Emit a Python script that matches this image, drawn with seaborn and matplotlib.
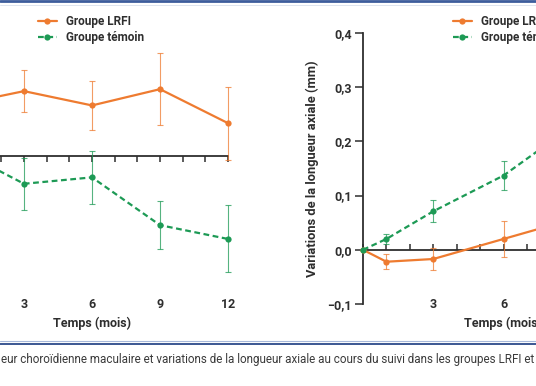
import pandas as pd
import matplotlib
matplotlib.use('Agg')
import matplotlib.pyplot as plt
from matplotlib.lines import Line2D
from matplotlib.ticker import FuncFormatter, MultipleLocator
import seaborn as sns

sns.set_style("white")
plt.rcParams['font.family'] = ['Roboto', 'DejaVu Sans']

# --- data -------------------------------------------------------------
months = [0, 1, 3, 6, 9, 12]
groups = ['Groupe LRFI', 'Groupe témoin']

# left panel: macular choroidal thickness change (µm)
choroid_lrfi = [0.0, 11.3, 13.2, 10.3, 13.6, 6.7]
choroid_lrfi_err = [0.0, 4.0, 4.3, 4.9, 7.3, 7.4]
choroid_ctrl = [0.0, -0.8, -5.6, -4.3, -14.0, -16.8]
choroid_ctrl_err = [0.0, 4.0, 5.3, 5.4, 4.9, 6.8]

# right panel: axial length change (mm)
axial_lrfi = [0.0, -0.022, -0.017, 0.020, 0.057, 0.080]
axial_lrfi_err = [0.0, 0.014, 0.021, 0.034, 0.036, 0.040]
axial_ctrl = [0.0, 0.020, 0.071, 0.137, 0.230, 0.300]
axial_ctrl_err = [0.0, 0.010, 0.020, 0.027, 0.030, 0.035]

month_labels = [3, 6, 9, 12]
axial_yticks = [-0.1, 0.0, 0.1, 0.2, 0.3, 0.4]

caption = ("eur choroïdienne maculaire et variations de la longueur axiale au cours "
           "du suivi dans les groupes LRFI et témoin.")

ORANGE = '#EE7B30'
GREEN = '#1D9A55'
DARK = '#2e2e2e'

W, H = 536, 386
AX_TOP, AX_BOT = 33, 304
fig = plt.figure(figsize=(W / 100, H / 100), dpi=100)
fig.patch.set_facecolor('white')


def px_axes(x0, y0, x1, y1):
    return fig.add_axes([x0 / W, 1 - y1 / H, (x1 - x0) / W, (y1 - y0) / H])


def draw_panel(ax, lrfi, lrfi_err, ctrl, ctrl_err, ylim, tick_dir):
    df = pd.DataFrame({
        'mois': months * 2,
        'valeur': lrfi + ctrl,
        'groupe': [groups[0]] * len(months) + [groups[1]] * len(months),
    })
    sns.lineplot(data=df, x='mois', y='valeur', hue='groupe', style='groupe',
                 palette=[ORANGE, GREEN], markers=['o', 'o'],
                 dashes={groups[0]: '', groups[1]: (2.6, 1.6)},
                 markersize=4.5, markeredgewidth=0, linewidth=1.6,
                 errorbar=None, ax=ax, zorder=4, clip_on=False)
    for vals, errs, col in [(lrfi, lrfi_err, ORANGE), (ctrl, ctrl_err, GREEN)]:
        eb = ax.errorbar(months, vals, yerr=errs, fmt='none', ecolor=col,
                         elinewidth=0.8, capsize=2.2, capthick=0.8, alpha=0.75, zorder=3)
        for art in eb.lines[1] + eb.lines[2]:
            art.set_clip_on(False)

    leg = ax.get_legend()
    handles = leg.legend_handles
    labels = [t.get_text() for t in leg.get_texts()]
    leg.remove()

    ax.set_xlim(0, 12)
    ax.set_ylim(*ylim)
    ax.set_xlabel('')
    ax.set_ylabel('')
    for s in ['top', 'right']:
        ax.spines[s].set_visible(False)
    ax.spines['bottom'].set_position(('data', 0))
    for s in ['bottom', 'left']:
        ax.spines[s].set_color(DARK)
        ax.spines[s].set_linewidth(1.3)
    ax.xaxis.set_major_locator(MultipleLocator(1))
    ax.tick_params(axis='x', which='major', direction=tick_dir, length=4,
                   width=1.1, color=DARK, labelbottom=False, bottom=True)

    # month labels sit at the bottom of the panel, not on the zero line;
    # only those that land inside the (cropped) figure are written
    axh = AX_BOT - AX_TOP
    trans = ax.get_xaxis_transform()
    for m in month_labels:
        xpix = ax.transData.transform((m, 0))[0]
        if 0 <= xpix <= W:
            ax.text(m, -1 / axh, str(m), transform=trans, ha='center', va='center',
                    fontsize=9, fontweight='bold', color=DARK)
    ax.text(6, -19 / axh, 'Temps (mois)', transform=trans, ha='center', va='center',
            fontsize=9, fontweight='bold', color=DARK)
    return handles, labels


# left panel (choroidal thickness), partly outside the figure
ax1 = px_axes(-44, AX_TOP, 228, AX_BOT)
h1, l1 = draw_panel(ax1, choroid_lrfi, choroid_lrfi_err, choroid_ctrl, choroid_ctrl_err,
                    (-30, 25), 'out')
ax1.set_yticks([])

# right panel (axial length)
ax2 = px_axes(363, AX_TOP, 644, AX_BOT)
h2, l2 = draw_panel(ax2, axial_lrfi, axial_lrfi_err, axial_ctrl, axial_ctrl_err,
                    (-0.1, 0.4), 'in')
ax2.set_yticks(axial_yticks)
ax2.yaxis.set_major_formatter(
    FuncFormatter(lambda v, p: f"{v:.1f}".replace('.', ',').replace('-0,0', '0,0').replace('-', '−')))
ax2.tick_params(axis='y', direction='out', length=6, width=1.1, color=DARK,
                labelsize=9, labelcolor=DARK, pad=2, left=True)
for t in ax2.get_yticklabels():
    t.set_fontweight('bold')
ax2.set_ylabel('Variations de la longueur axiale (mm)', fontsize=9.3,
               fontweight='bold', color=DARK, labelpad=6)

for handles, labels, x0 in [(h1, l1, 38), (h2, l2, 453)]:
    fig.legend(handles, labels, loc='upper left', bbox_to_anchor=(x0 / W, 1 - 15 / H),
               frameon=False, handlelength=1.6, handletextpad=0.8,
               labelspacing=0.25, borderpad=0, borderaxespad=0,
               prop={'weight': 'bold', 'size': 8.5})

for leg in fig.legends:
    for t in leg.get_texts():
        t.set_color(DARK)

# page rules and caption
fig.add_artist(Line2D([0, 1], [1 - 1 / H, 1 - 1 / H], transform=fig.transFigure,
                      color='#3d5d9c', lw=2))
fig.add_artist(Line2D([0, 1], [1 - 5 / H, 1 - 5 / H], transform=fig.transFigure,
                      color='#dfe5ef', lw=0.7))
fig.add_artist(Line2D([0, 1], [1 - 341 / H, 1 - 341 / H], transform=fig.transFigure,
                      color='#a8b9da', lw=0.8))
fig.add_artist(Line2D([0, 1], [1 - 343.5 / H, 1 - 343.5 / H], transform=fig.transFigure,
                      color='#2c4a8a', lw=1.3))
fig.text(0.001, 1 - 360 / H, caption, fontsize=8.35, color='#3a3a3a', va='center', ha='left')

fig.savefig('out.png', dpi=100)
